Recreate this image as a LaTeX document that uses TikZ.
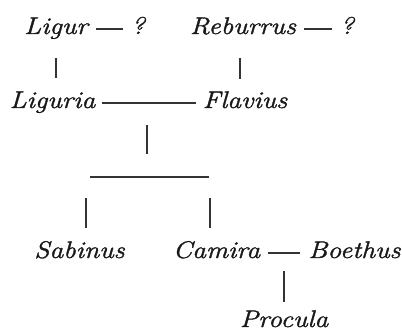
\documentclass[tikz,border=0pt]{standalone}
\usepackage{fontspec}
\usetikzlibrary{calc}
\newfontfamily\namefont[FakeStretch=1.15,FakeBold=1.4]{Latin Modern Roman}
\begin{document}
\begin{tikzpicture}[x=1pt,y=-1pt,
  person/.style={anchor=base,inner sep=0pt,text=black!90,
    font=\namefont\itshape\fontsize{24}{28}\selectfont},
  kin/.style={draw=black!80,line width=1.2pt},
  couple/.style={kin,shorten <=#1,shorten >=#1}]
\useasboundingbox (0,0) rectangle (402,334);

% names (placed by the centre of their baseline)
\node[person] (ligur)    at (56,34)    {Ligur};
\node[person] (q1)       at (138,34)   {?};
\node[person] (reburrus) at (243,34)   {Reburrus};
\node[person] (q2)       at (347,34)   {?};
\node[person] (liguria)  at (52.5,108) {Liguria};
\node[person] (flavius)  at (245,108)  {Flavius};
\node[person] (sabinus)  at (79.5,258) {Sabinus};
\node[person] (camira)   at (216.5,258){Camira};
\node[person] (boethus)  at (354.5,258){Boethus};
\node[person] (procula)  at (284,327)  {Procula};

% marriages, drawn 5pt above the baseline
\draw[couple=8pt] ([yshift=5pt]ligur.base east) -- ([yshift=5pt]q1.base west);
\draw[couple=8pt] ([yshift=5pt]reburrus.base east) -- ([yshift=5pt]q2.base west);
\draw[couple=7pt] ([yshift=5pt]liguria.base east) -- ([yshift=5pt]flavius.base west);
\draw[couple=8pt] ([yshift=5pt]camira.base east) -- ([yshift=5pt]boethus.base west);

% middle of the Liguria--Flavius marriage line
\coordinate (m) at ($(liguria.base east)!0.5!(flavius.base west)+(0,-5)$);

% descent
\draw[kin] (ligur.base) ++(0,24) -- ++(0,20);
\draw[kin] (reburrus.base) ++(-3,24) -- ++(0,21);
\draw[kin] (m) ++(-2,22) -- ++(0,29);
\draw[kin] ($(m)+(-59,74)$) -- ($(m)+(60,74)$);
\draw[kin] (sabinus.base) ++(6.5,-60) -- ++(0,30);
\draw[kin] (camira.base) ++(-6.5,-60) -- ++(0,30);
\draw[kin] (procula.base) ++(0,-56) -- ++(0,31);
\end{tikzpicture}
\end{document}
